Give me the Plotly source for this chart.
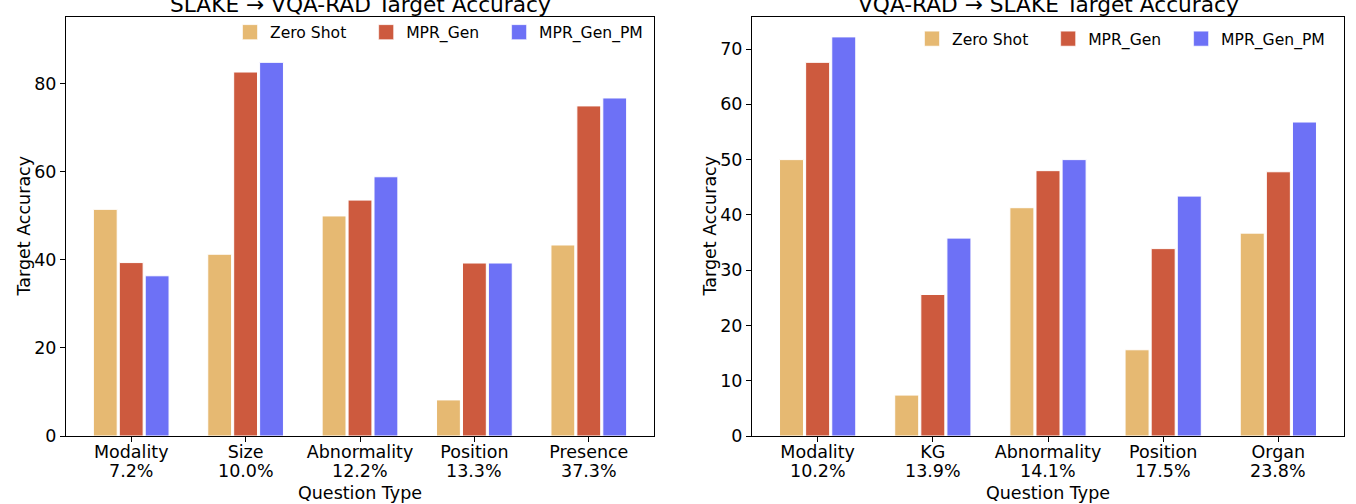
import plotly.graph_objects as go

series_names = ["Zero Shot", "MPR_Gen", "MPR_Gen_PM"]
colors = ["#E6B972", "#CD5A3E", "#6D71F6"]

left_categories = ["Modality", "Size", "Abnormality", "Position", "Presence"]
left_shares = ["7.2%", "10.0%", "12.2%", "13.3%", "37.3%"]
left_zero_shot = [51.5, 41.3, 50.0, 8.2, 43.4]
left_mpr_gen = [39.4, 82.7, 53.6, 39.3, 75.0]
left_mpr_gen_pm = [36.4, 84.9, 58.9, 39.3, 76.8]

right_categories = ["Modality", "KG", "Abnormality", "Position", "Organ"]
right_shares = ["10.2%", "13.9%", "14.1%", "17.5%", "23.8%"]
right_zero_shot = [50.0, 7.4, 41.3, 15.6, 36.7]
right_mpr_gen = [67.6, 25.6, 48.0, 33.9, 47.8]
right_mpr_gen_pm = [72.2, 35.8, 50.0, 43.4, 56.8]

left_title = "SLAKE → VQA-RAD Target Accuracy"
right_title = "VQA-RAD → SLAKE Target Accuracy"
x_title = "Question Type"
y_title = "Target Accuracy"

FONT = "DejaVu Sans"
W, H = 1356, 504
PAD = "\u00a0\u00a0\u00a0"

fig = go.Figure()

left_vals = [left_zero_shot, left_mpr_gen, left_mpr_gen_pm]
right_vals = [right_zero_shot, right_mpr_gen, right_mpr_gen_pm]

for xa, ya, lg, cats, vals_list in [("x", "y", "legend", left_categories, left_vals),
                                    ("x2", "y2", "legend2", right_categories, right_vals)]:
    for name, col, vals in zip(series_names, colors, vals_list):
        fig.add_trace(go.Bar(x=cats, y=vals, name=name, marker_color=col,
                             marker_line_color="white", marker_line_width=1,
                             xaxis=xa, yaxis=ya, showlegend=False, offsetgroup=name))
    for name, col in zip(series_names, colors):
        fig.add_trace(go.Scatter(x=[None], y=[None], mode="markers", name=name + PAD,
                                 marker=dict(symbol="square", size=15, color=col,
                                             line=dict(color="rgba(255,255,255,0.6)", width=1)),
                                 xaxis=xa, yaxis=ya, legend=lg, showlegend=True))

m_t, m_b = 17, 68
ph = H - m_t - m_b

def axstyle(**kw):
    d = dict(showline=True, linecolor="black", linewidth=1, mirror=True,
             ticks="outside", ticklen=5, tickcolor="black", showgrid=False,
             zeroline=False, tickfont=dict(family=FONT, size=17.5, color="black"))
    d.update(kw)
    return d

annotations = []
for xr, titletext, cx, ylab_x, shares in [("x", left_title, 360, 23, left_shares),
                                           ("x2", right_title, 1048, 709, right_shares)]:
    annotations.append(dict(text=titletext, x=cx / W, xref="paper", y=1, yref="paper",
                            xanchor="center", yanchor="bottom", showarrow=False, yshift=-2,
                            font=dict(family=FONT, size=21.7, color="black")))
    annotations.append(dict(text=x_title, x=cx / W, xref="paper", y=0, yref="paper",
                            xanchor="center", yanchor="middle", showarrow=False, yshift=-57,
                            font=dict(family=FONT, size=17.5, color="black")))
    annotations.append(dict(text=y_title, x=ylab_x / W, xref="paper", y=0.5, yref="paper",
                            xanchor="center", yanchor="middle", showarrow=False, textangle=-90,
                            font=dict(family=FONT, size=17.5, color="black")))
    for i, s in enumerate(shares):
        annotations.append(dict(text=s, x=i, xref=xr, y=0, yref="paper",
                                xanchor="center", yanchor="middle", showarrow=False, yshift=-35,
                                font=dict(family=FONT, size=17.5, color="black")))

fig.update_layout(
    width=W, height=H,
    margin=dict(l=0, r=0, t=m_t, b=m_b, autoexpand=False),
    paper_bgcolor="white", plot_bgcolor="white",
    barmode="group", bargap=0.32, bargroupgap=0.08,
    font=dict(family=FONT, color="black"),
    showlegend=True,
    xaxis=axstyle(domain=[66 / W, 654 / W], range=[-0.57, 4.57], anchor="y", ticklabelstandoff=-5),
    yaxis=axstyle(domain=[0, 1], range=[0, 95.2], dtick=20, anchor="x"),
    xaxis2=axstyle(domain=[752 / W, 1344 / W], range=[-0.57, 4.57], anchor="y2", ticklabelstandoff=-5),
    yaxis2=axstyle(domain=[0, 1], range=[0, 75.8], dtick=10, anchor="x2"),
    legend=dict(orientation="h", x=230 / W, xanchor="left", y=1 + 1.5 / ph, yanchor="top",
                font=dict(family=FONT, size=15.6), bgcolor="rgba(255,255,255,0)"),
    legend2=dict(orientation="h", x=912 / W, xanchor="left", y=1 - 5 / ph, yanchor="top",
                 font=dict(family=FONT, size=15.6), bgcolor="rgba(255,255,255,0)"),
    annotations=annotations,
)

fig.write_html("out.html", config={"displayModeBar": False},
               post_script="document.body.style.margin='0';")
